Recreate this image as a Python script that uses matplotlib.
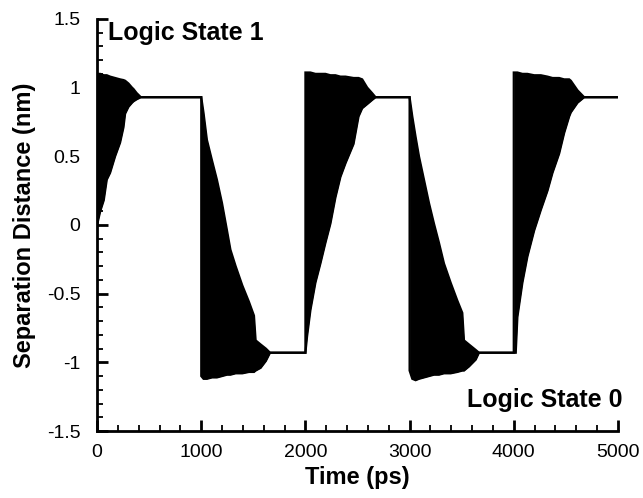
import matplotlib
matplotlib.use("Agg")
import matplotlib.pyplot as plt
import numpy as np
from matplotlib.ticker import MultipleLocator

plt.rcParams['font.family'] = ['Liberation Sans', 'DejaVu Sans']

# envelope of the oscillating separation distance
# (time in ps, upper and lower bound in nm); flat parts have upper == lower
t_ps = [0, 30, 64, 93, 125, 173, 221, 253, 269, 301, 335, 349, 380, 420,
        1000,
        1000, 1022, 1054, 1103, 1150, 1199, 1247, 1280, 1330, 1394, 1458, 1506, 1522, 1570, 1620, 1660,
        2000,
        2000, 2016, 2048, 2096, 2144, 2192, 2240, 2288, 2336, 2385, 2462, 2510, 2545, 2593, 2640, 2673,
        3000,
        3000, 3026, 3058, 3090, 3138, 3186, 3234, 3282, 3330, 3394, 3458, 3506, 3522, 3570, 3635, 3666,
        4000,
        4000, 4019, 4035, 4083, 4131, 4196, 4260, 4324, 4372, 4436, 4484, 4532, 4548, 4612, 4676,
        5000]
upper_nm = [1.10, 1.10, 1.09, 1.09, 1.08, 1.07, 1.06, 1.055, 1.05, 1.03, 1.00, 0.99, 0.96, 0.93,
            0.93,
            0.93, 0.815, 0.62, 0.47, 0.33, 0.16, -0.04, -0.18, -0.30, -0.44, -0.56, -0.66, -0.84, -0.87, -0.90, -0.93,
            -0.93,
            1.11, 1.11, 1.11, 1.10, 1.10, 1.10, 1.09, 1.09, 1.08, 1.08, 1.07, 1.07, 1.06, 1.00, 0.96, 0.93,
            0.93,
            0.93, 0.79, 0.64, 0.50, 0.33, 0.16, 0.01, -0.13, -0.28, -0.42, -0.55, -0.64, -0.84, -0.87, -0.91, -0.93,
            -0.93,
            1.11, 1.11, 1.11, 1.10, 1.10, 1.09, 1.09, 1.08, 1.07, 1.07, 1.06, 1.06, 1.05, 0.98, 0.93,
            0.93]
lower_nm = [0.00, 0.10, 0.18, 0.33, 0.38, 0.50, 0.60, 0.71, 0.81, 0.86, 0.89, 0.90, 0.915, 0.93,
            0.93,
            -1.10, -1.12, -1.12, -1.11, -1.11, -1.10, -1.09, -1.09, -1.08, -1.08, -1.07, -1.07, -1.06, -1.04, -0.99, -0.93,
            -0.93,
            -0.93, -0.81, -0.62, -0.42, -0.28, -0.13, 0.01, 0.20, 0.35, 0.45, 0.59, 0.79, 0.85, 0.88, 0.91, 0.93,
            0.93,
            -1.06, -1.12, -1.13, -1.12, -1.11, -1.10, -1.09, -1.09, -1.08, -1.08, -1.07, -1.06, -1.06, -1.03, -0.98, -0.93,
            -0.93,
            -0.93, -0.93, -0.67, -0.42, -0.23, -0.04, 0.11, 0.25, 0.38, 0.52, 0.67, 0.79, 0.82, 0.89, 0.93,
            0.93]

t = np.array(t_ps, dtype=float)
up = np.array(upper_nm)
lo = np.array(lower_nm)

fig = plt.figure(figsize=(6.43, 4.98), dpi=100)
ax = fig.add_axes([0.151, 0.1345, 0.81, 0.8275])

ax.fill_between(t, lo, up, color='black', linewidth=0)
ax.plot(t, up, color='black', lw=1.6, solid_joinstyle='miter')
ax.plot(t, lo, color='black', lw=1.6, solid_joinstyle='miter')

ax.set_xlim(0, 5000)
ax.set_ylim(-1.5, 1.5)

ax.spines['top'].set_visible(False)
ax.spines['right'].set_visible(False)
ax.spines['left'].set_linewidth(2)
ax.spines['bottom'].set_linewidth(2)

ax.xaxis.set_major_locator(MultipleLocator(1000))
ax.xaxis.set_minor_locator(MultipleLocator(200))
ax.yaxis.set_major_locator(MultipleLocator(0.5))
ax.yaxis.set_minor_locator(MultipleLocator(0.1))
ax.tick_params(which='major', direction='in', length=8, width=2, labelsize=14, pad=9)
ax.tick_params(which='minor', direction='in', length=4, width=1.3)
ax.tick_params(axis='y', which='major', pad=12)
ax.set_yticks([-1.5, -1, -0.5, 0, 0.5, 1, 1.5])
ax.set_yticklabels(['-1.5', '-1', '-0.5', '0', '0.5', '1', '1.5'])

ax.set_xlabel('Time (ps)', fontsize=17, fontweight='bold', labelpad=4)
ax.set_ylabel('Separation Distance (nm)', fontsize=17, fontweight='bold', labelpad=8)

ax.text(100, 1.40, 'Logic State 1', fontsize=18, fontweight='bold', ha='left', va='center')
ax.text(5040, -1.275, 'Logic State 0', fontsize=18, fontweight='bold', ha='right', va='center',
        clip_on=False)

fig.savefig('out.png', dpi=100)
